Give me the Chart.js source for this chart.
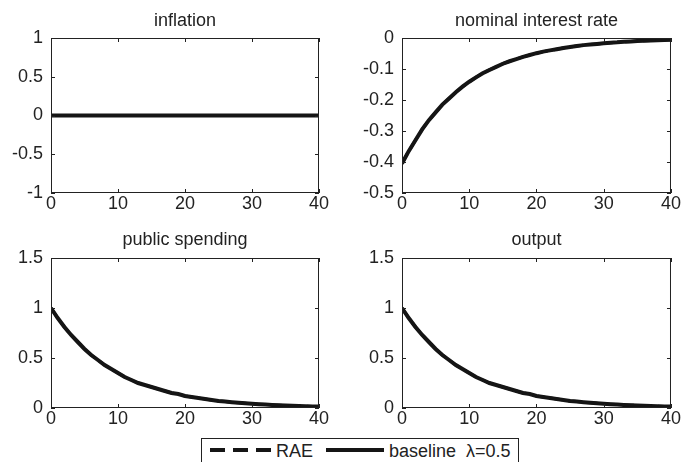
<!DOCTYPE html>
<html>
<head>
<meta charset="utf-8">
<script src="https://cdn.jsdelivr.net/npm/chart.js@4"></script>
<style>
html,body{margin:0;padding:0;background:#fff;}
body{width:681px;height:462px;position:relative;overflow:hidden;font-family:"Liberation Sans",Arial,sans-serif;color:#222;}
canvas{position:absolute;}
#legend{position:absolute;left:201px;top:438px;width:318px;height:40px;border:1px solid #222;box-sizing:border-box;}
#legend .txt{position:absolute;top:0;height:24px;font-size:18px;line-height:24px;white-space:pre;color:#222;}
#legend .seg{position:absolute;height:4px;background:#151515;}
</style>
</head>
<body>
<canvas id="c0" width="340" height="230" style="left:0;top:0"></canvas>
<canvas id="c1" width="341" height="230" style="left:340px;top:0"></canvas>
<canvas id="c2" width="340" height="208" style="left:0;top:230px"></canvas>
<canvas id="c3" width="341" height="208" style="left:340px;top:230px"></canvas>
<div id="legend"></div>
<script>
// ---- data ----
const periods = [0,1,2,3,4,5,6,7,8,9,10,11,12,13,14,15,16,17,18,19,20,21,22,23,24,25,26,27,28,29,30,31,32,33,34,35,36,37,38,39,40];
const seriesNames = ['RAE', 'baseline  \u03bb=0.5'];
const panelTitles = ['inflation', 'nominal interest rate', 'public spending', 'output'];

const inflation = [0,0,0,0,0,0,0,0,0,0,0,0,0,0,0,0,0,0,0,0,0,0,0,0,0,0,0,0,0,0,0,0,0,0,0,0,0,0,0,0,0];
const interestRate = [-0.405,-0.365,-0.33,-0.295,-0.265,-0.24,-0.215,-0.195,-0.175,-0.157,-0.141,-0.127,-0.114,-0.103,-0.093,-0.083,-0.075,-0.068,-0.061,-0.055,-0.049,-0.044,-0.04,-0.036,-0.032,-0.029,-0.026,-0.023,-0.021,-0.019,-0.017,-0.015,-0.014,-0.012,-0.011,-0.01,-0.009,-0.008,-0.007,-0.0065,-0.006];
const publicSpending = [1.0,0.9,0.81,0.73,0.66,0.59,0.53,0.48,0.43,0.39,0.35,0.31,0.28,0.25,0.23,0.21,0.19,0.17,0.15,0.14,0.12,0.11,0.1,0.09,0.08,0.07,0.065,0.058,0.052,0.047,0.042,0.038,0.034,0.031,0.028,0.025,0.022,0.02,0.018,0.016,0.015];
const output = [1.0,0.9,0.81,0.73,0.66,0.59,0.53,0.48,0.43,0.39,0.35,0.31,0.28,0.25,0.23,0.21,0.19,0.17,0.15,0.14,0.12,0.11,0.1,0.09,0.08,0.07,0.065,0.058,0.052,0.047,0.042,0.038,0.034,0.031,0.028,0.025,0.022,0.02,0.018,0.016,0.015];
// RAE coincides with the baseline in every panel
const raeInflation = inflation, raeInterestRate = interestRate, raePublicSpending = publicSpending, raeOutput = output;

const xTicks = [0,10,20,30,40];
const inflationTicks = [-1,-0.5,0,0.5,1];
const interestTicks = [-0.5,-0.4,-0.3,-0.2,-0.1,0];
const spendingTicks = [0,0.5,1,1.5];
const outputTicks = [0,0.5,1,1.5];

// ---- styling / layout ----
const INK = '#151515';
const TXT = '#222';
const FONT = {family:'"Liberation Sans", Arial, sans-serif', size:18};

const panelTitle = {
  id:'panelTitle',
  afterDraw(chart, args, opts){
    const {ctx, chartArea:a} = chart;
    ctx.save();
    ctx.fillStyle = TXT;
    ctx.font = FONT.size + 'px ' + FONT.family;
    ctx.textAlign = 'center';
    ctx.textBaseline = 'alphabetic';
    ctx.fillText(opts.text, (a.left + a.right)/2, a.top - opts.offset);
    ctx.restore();
  }
};

const frame = {
  id:'frame',
  afterDatasetsDraw(chart){
    const {ctx, chartArea:a, scales} = chart;
    ctx.save();
    ctx.strokeStyle = '#222';
    ctx.lineWidth = 1;
    ctx.strokeRect(a.left + 0.5, a.top + 0.5, a.right - a.left - 1, a.bottom - a.top - 1);
    const L = 4;
    ctx.beginPath();
    scales.x.ticks.forEach(t => {
      const p = Math.round(scales.x.getPixelForValue(t.value)) + 0.5;
      ctx.moveTo(p, a.bottom); ctx.lineTo(p, a.bottom - L);
      ctx.moveTo(p, a.top); ctx.lineTo(p, a.top + L);
    });
    scales.y.ticks.forEach(t => {
      const p = Math.round(scales.y.getPixelForValue(t.value)) + 0.5;
      ctx.moveTo(a.left, p); ctx.lineTo(a.left + L, p);
      ctx.moveTo(a.right, p); ctx.lineTo(a.right - L, p);
    });
    ctx.stroke();
    ctx.restore();
  }
};

function makePanel(id, title, baseline, rae, yTicks, g){
  return new Chart(document.getElementById(id), {
    type:'line',
    data:{
      labels: periods,
      datasets:[
        {label: seriesNames[0], data: rae, borderColor: INK, borderWidth: 3, borderDash:[12,6], pointRadius:0, tension:0, fill:false},
        {label: seriesNames[1], data: baseline, borderColor: INK, borderWidth: 4, pointRadius:0, tension:0, fill:false}
      ]
    },
    options:{
      responsive:false, animation:false, events:[],
      layout:{padding:{top:g.top, right:g.right, left:0, bottom:0}},
      plugins:{legend:{display:false}, tooltip:{enabled:false}, panelTitle:{text:title, offset:g.titleOffset}},
      scales:{
        x:{
          type:'linear', min:0, max:40,
          afterBuildTicks: s => { s.ticks = xTicks.map(v => ({value:v})); },
          afterFit: s => { s.height = g.xh; },
          grid:{display:false, drawTicks:false}, border:{display:false},
          ticks:{padding:0, font:FONT, color:TXT, maxRotation:0, autoSkip:false, callback: v => String(v)}
        },
        y:{
          type:'linear', min:yTicks[0], max:yTicks[yTicks.length-1],
          afterBuildTicks: s => { s.ticks = yTicks.map(v => ({value:v})); },
          afterFit: s => { s.width = g.left; },
          grid:{display:false, drawTicks:false}, border:{display:false},
          ticks:{padding:8, font:FONT, color:TXT, autoSkip:false, callback: v => String(v)}
        }
      }
    },
    plugins:[panelTitle, frame]
  });
}

makePanel('c0', panelTitles[0], inflation, raeInflation, inflationTicks, {top:38, right:21, left:51, xh:37, titleOffset:12});
makePanel('c1', panelTitles[1], interestRate, raeInterestRate, interestTicks, {top:38, right:10, left:62, xh:37, titleOffset:12});
makePanel('c2', panelTitles[2], publicSpending, raePublicSpending, spendingTicks, {top:28, right:21, left:51, xh:30, titleOffset:13});
makePanel('c3', panelTitles[3], output, raeOutput, outputTicks, {top:28, right:10, left:62, xh:30, titleOffset:13});

// ---- legend (HTML, built from the series names) ----
const lg = document.getElementById('legend');
function seg(left, width){ const d = document.createElement('div'); d.className='seg'; d.style.left = left+'px'; d.style.width = width+'px'; d.style.top = '9px'; lg.appendChild(d); }
function txt(left, s){ const d = document.createElement('div'); d.className='txt'; d.style.left = left+'px'; d.textContent = s; lg.appendChild(d); }
seg(8,15); seg(31,15); seg(54,15);
txt(74, seriesNames[0]);
seg(124,58);
txt(187, seriesNames[1]);
</script>
</body>
</html>
